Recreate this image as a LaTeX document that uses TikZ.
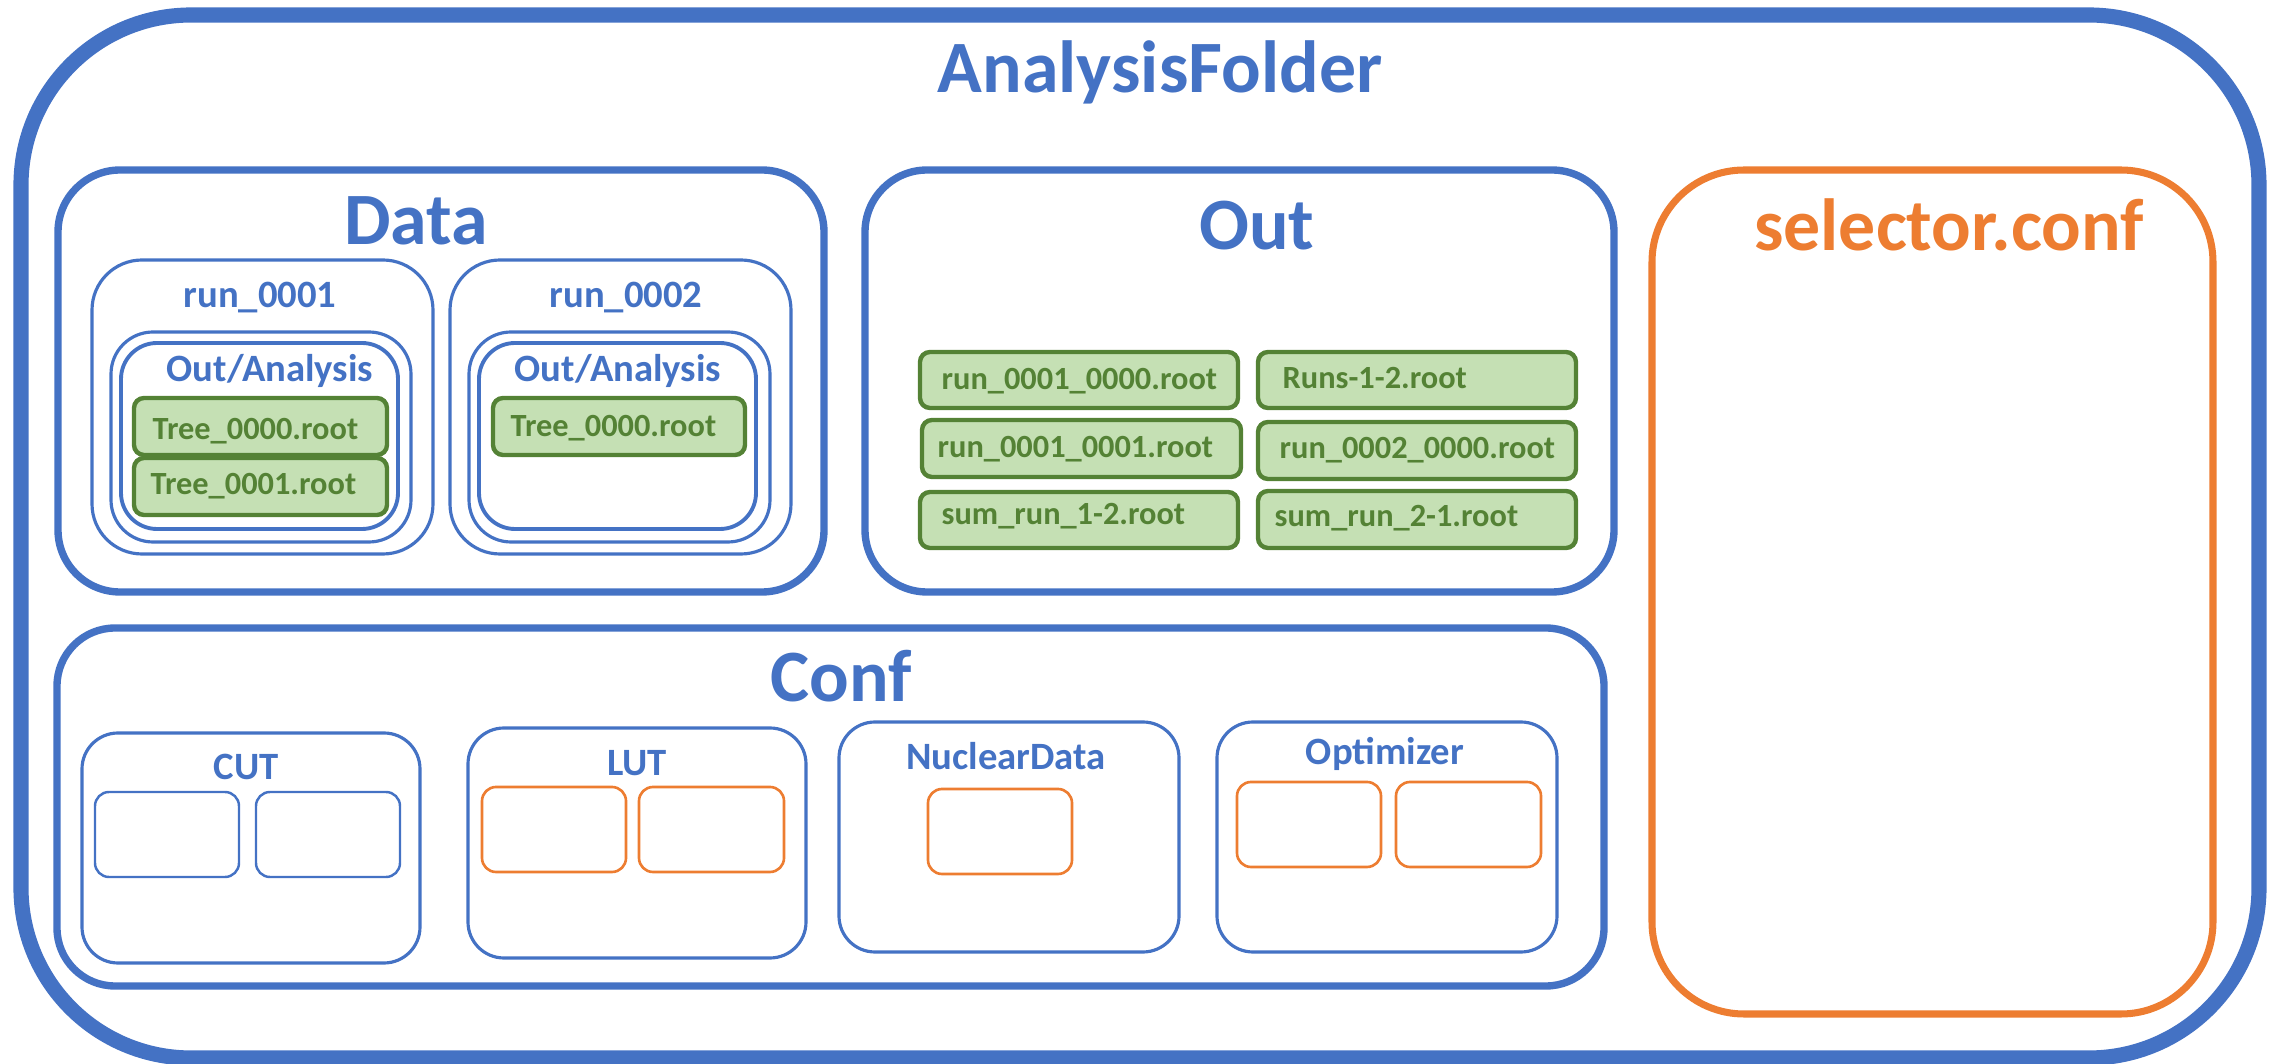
\documentclass[tikz,border=0pt]{standalone}
\usepackage{fontspec}
\setmainfont{Carlito}
\usetikzlibrary{fit}
\definecolor{fblue}{HTML}{4472C4}
\definecolor{forange}{HTML}{ED7D31}
\definecolor{lgreen}{HTML}{C5E0B4}
\definecolor{dgreen}{HTML}{548235}
\tikzset{
  box/.style={draw=fblue, inner sep=0pt, outer sep=0pt},
  rootbox/.style={box, line width=4.3pt, rounded corners=1.7cm},
  folder/.style={box, line width=2.1pt, rounded corners=0.62cm},
  subfolder/.style={box, line width=0.9pt, rounded corners=#1},
  subfolder/.default=0.36cm,
  cfgfile/.style={box, draw=forange, line width=0.75pt, rounded corners=0.14cm},
  cutfile/.style={box, line width=0.7pt, rounded corners=0.14cm},
  rootfile/.style={box, draw=dgreen, fill=lgreen, line width=1.25pt, rounded corners=0.1cm},
  bigtitle/.style={anchor=base, inner sep=0pt, text=fblue, font=\bfseries\fontsize{21}{25}\selectfont},
  subtitle/.style={anchor=base, inner sep=0pt, text=fblue, font=\bfseries\fontsize{11}{13}\selectfont},
  filename/.style={anchor=base west, inner sep=0pt, text=dgreen, font=\bfseries\fontsize{9.2}{11}\selectfont},
}
\begin{document}
\begin{tikzpicture}[x=0.01cm, y=-0.01cm]
\useasboundingbox (0,0) rectangle (2277,1064);

% top-level folder
\node[rootbox, fit={(21,15) (2259,1058)}] (root) {};
\node[bigtitle] (tRoot) at (1160,93) {AnalysisFolder};

% Data folder
\node[folder, fit={(58,170) (824,592)}] (data) {};
\node[bigtitle] (tData) at (416,245) {Data};

\node[subfolder=0.5cm, fit={(92,260) (433,554)}] (run1) {};
\node[subtitle] (tRun1) at (260,308) {run\_0001};
\node[subfolder=0.42cm, fit={(111,332) (411,542)}] (oa1o) {};
\node[subfolder=0.36cm, line width=1.1pt, fit={(121,343) (398,529)}] (oa1i) {};
\node[subtitle] (tOa1) at (270,382) {Out/Analysis};
\node[rootfile, fit={(134,398) (387,455)}] (r1t0) {};
\node[filename] (tR1t0) at (152,440) {Tree\_0000.root};
\node[rootfile, fit={(134,458) (387,515)}] (r1t1) {};
\node[filename] (tR1t1) at (150,495) {Tree\_0001.root};

\node[subfolder=0.5cm, fit={(450,260) (791,554)}] (run2) {};
\node[subtitle] (tRun2) at (626,308) {run\_0002};
\node[subfolder=0.42cm, fit={(469,332) (770,542)}] (oa2o) {};
\node[subfolder=0.36cm, line width=1.1pt, fit={(479,343) (756,529)}] (oa2i) {};
\node[subtitle] (tOa2) at (618,382) {Out/Analysis};
\node[rootfile, fit={(493,398) (745,455)}] (r2t0) {};
\node[filename] (tR2t0) at (510,437) {Tree\_0000.root};

% Out folder
\node[folder, fit={(865,170) (1614,592)}] (out) {};
\node[bigtitle] (tOut) at (1257,250) {Out};
\node[rootfile, fit={(920,352) (1238,408)}] (o1) {};
\node[filename] (tO1) at (941,390) {run\_0001\_0000.root};
\node[rootfile, fit={(922,420) (1241,477)}] (o2) {};
\node[filename] (tO2) at (937,458) {run\_0001\_0001.root};
\node[rootfile, fit={(920,492) (1238,548)}] (o3) {};
\node[filename] (tO3) at (941,525) {sum\_run\_1-2.root};
\node[rootfile, fit={(1258,352) (1576,408)}] (o4) {};
\node[filename] (tO4) at (1282,389) {Runs-1-2.root};
\node[rootfile, fit={(1258,422) (1576,479)}] (o5) {};
\node[filename] (tO5) at (1279,459) {run\_0002\_0000.root};
\node[rootfile, fit={(1258,491) (1576,548)}] (o6) {};
\node[filename] (tO6) at (1274,527) {sum\_run\_2-1.root};

% Conf folder
\node[folder, rounded corners=0.58cm, fit={(57,628) (1604,986)}] (conf) {};
\node[bigtitle] (tConf) at (841,702) {Conf};

\node[subfolder, fit={(82,733) (420,963)}] (cut) {};
\node[subtitle] (tCut) at (246,780) {CUT};
\node[cutfile, fit={(95,792) (239,877)}] (cut1) {};
\node[cutfile, fit={(256,792) (400,877)}] (cut2) {};

\node[subfolder, fit={(468,728) (806,958)}] (lut) {};
\node[subtitle] (tLut) at (637,776) {LUT};
\node[cfgfile, fit={(482,787) (626,872)}] (lut1) {};
\node[cfgfile, fit={(639,787) (784,872)}] (lut2) {};

\node[subfolder, fit={(839,722) (1179,952)}] (nuc) {};
\node[subtitle] (tNuc) at (1006,770) {NuclearData};
\node[cfgfile, fit={(928,789) (1072,874)}] (nuc1) {};

\node[subfolder, fit={(1217,722) (1557,952)}] (opt) {};
\node[subtitle] (tOpt) at (1385,765) {Optimizer};
\node[cfgfile, fit={(1237,782) (1381,867)}] (opt1) {};
\node[cfgfile, fit={(1396,782) (1541,867)}] (opt2) {};

% selector configuration
\node[box, draw=forange, line width=2pt, rounded corners=0.92cm, fit={(1652,170) (2213,1014)}] (sel) {};
\node[bigtitle, text=forange] (tSel) at (1949,251) {selector.conf};
\end{tikzpicture}
\end{document}
